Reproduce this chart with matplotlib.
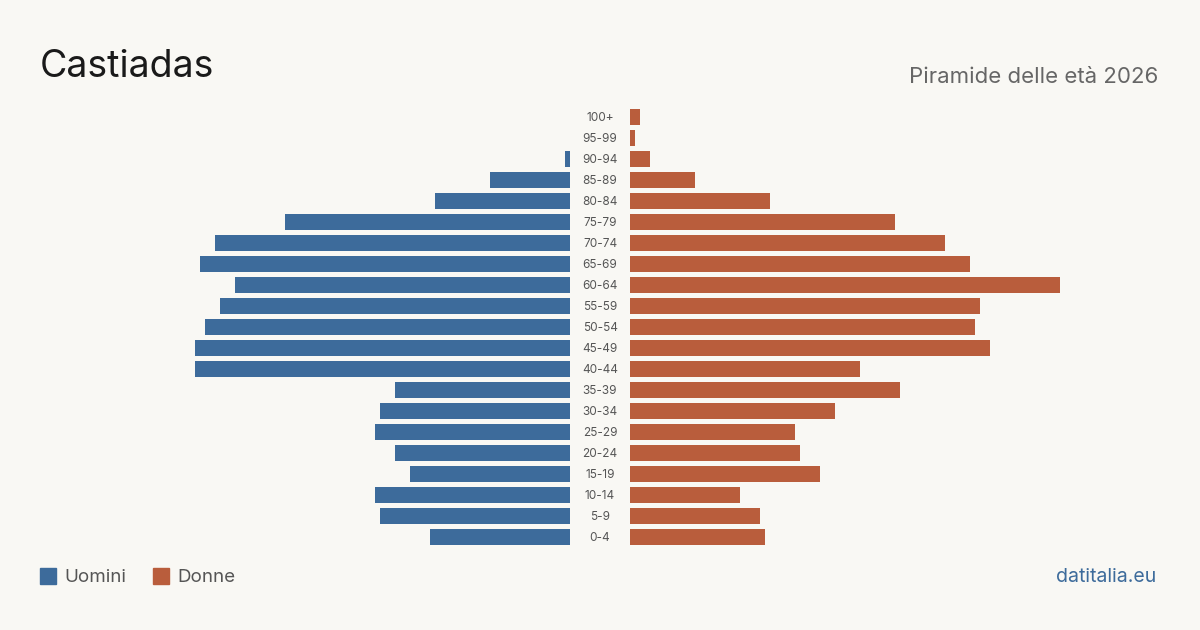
"""
Population pyramid for Castiadas, 2026.
Male bars grow left from the centre gap, female bars grow right.
"""
import matplotlib

matplotlib.use("Agg")
import matplotlib.pyplot as plt  # noqa: E402
from matplotlib.patches import Rectangle  # noqa: E402

plt.rcParams["font.family"] = ["Inter", "DejaVu Sans"]

AGE_GROUPS = ["0-4", "5-9", "10-14", "15-19", "20-24", "25-29", "30-34", "35-39",
              "40-44", "45-49", "50-54", "55-59", "60-64", "65-69", "70-74",
              "75-79", "80-84", "85-89", "90-94", "95-99", "100+"]
MEN = [28, 38, 39, 32, 35, 39, 38, 35, 75, 75, 73, 70, 67, 74, 71, 57, 27, 16, 1, 0, 0]
WOMEN = [27, 26, 22, 38, 34, 33, 41, 54, 46, 72, 69, 70, 86, 68, 63, 53, 28, 13, 4, 1, 2]

BG = "#f9f8f4"
BLUE = "#3d6b9b"
ORANGE = "#b95d3c"

W, H = 1200, 630
fig = plt.figure(figsize=(W / 100, H / 100), dpi=100, facecolor=BG)

bottom = (H - 547.5) / H
height = 441 / H
ax_m = fig.add_axes([120 / W, bottom, 450 / W, height])
ax_f = fig.add_axes([630 / W, bottom, 450 / W, height])

ys = list(range(len(AGE_GROUPS)))
ax_m.barh(ys, MEN, height=0.8, color=BLUE)
ax_f.barh(ys, WOMEN, height=0.8, color=ORANGE)
ax_m.set_xlim(90, 0)
ax_f.set_xlim(0, 90)
for ax in (ax_m, ax_f):
    ax.set_ylim(-0.5, len(AGE_GROUPS) - 0.5)
    ax.set_facecolor("none")
    ax.axis("off")

for y, label in zip(ys, AGE_GROUPS):
    ax_f.text(-6, y - 0.05, label, ha="center", va="center", fontsize=8.5,
              color="#555555", clip_on=False)

fig.text(40 / W, 1 - 67 / H, "Castiadas", fontsize=27, color="#1a1a1a",
         ha="left", va="center")
fig.text(1158 / W, 1 - 77 / H, "Piramide delle età 2026", fontsize=16,
         color="#666666", ha="right", va="center")

# legend
for x0, color, label, tx in [(40, BLUE, "Uomini", 64), (153, ORANGE, "Donne", 177)]:
    fig.patches.append(Rectangle((x0 / W, 1 - 584 / H), 16 / W, 16 / H,
                                 transform=fig.transFigure, color=color))
    fig.text(tx / W, 1 - 577 / H, label, fontsize=13.5, color="#555555",
             ha="left", va="center")

fig.text(1156 / W, 1 - 577 / H, "datitalia.eu", fontsize=14, color=BLUE,
         ha="right", va="center")

fig.savefig("out.png", dpi=100, facecolor=BG)
